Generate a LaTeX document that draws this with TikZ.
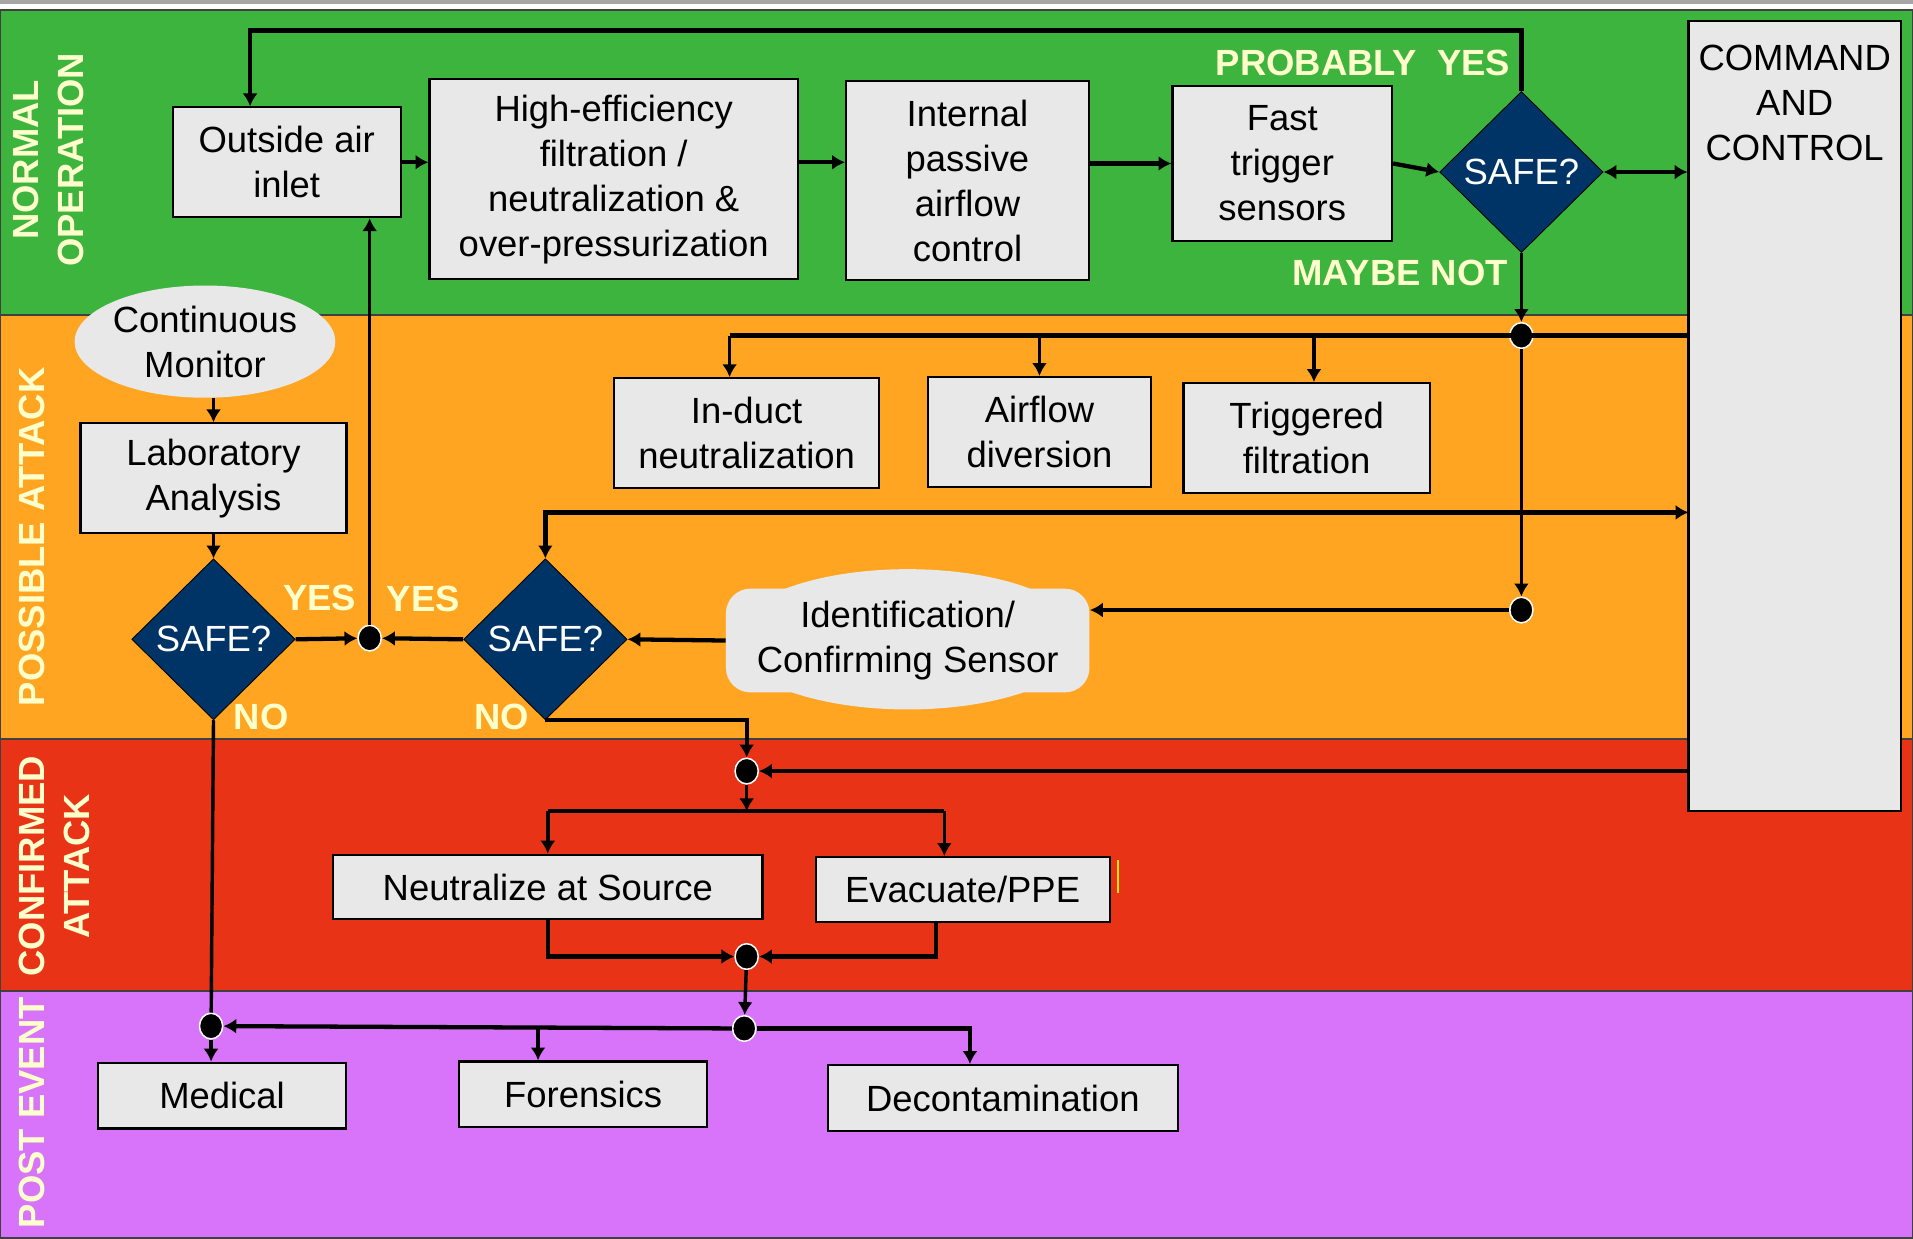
\documentclass[tikz,border=0pt]{standalone}
\usepackage{fontspec}
\setmainfont{Liberation Sans}
\usetikzlibrary{shapes.geometric,arrows.meta}
\definecolor{opgreen}{RGB}{61,180,61}
\definecolor{atkorange}{RGB}{255,165,33}
\definecolor{cnfred}{RGB}{233,51,22}
\definecolor{postpurple}{RGB}{216,116,250}
\definecolor{boxgray}{RGB}{232,232,232}
\definecolor{navy}{RGB}{0,51,102}
\definecolor{paleyellow}{RGB}{255,255,204}
\newcommand{\boxfont}{\fontsize{17}{21}\selectfont}
\newcommand{\lanefont}{\fontsize{17}{21}\selectfont\bfseries}

\begin{document}
\begin{tikzpicture}[x=0.02cm, y=-0.02cm, >={Latex[length=6pt,width=7pt]},
  every node/.style={font=\boxfont},
  stepbox/.style={draw, line width=1pt, fill=boxgray, align=center, inner sep=2pt},
  safe/.style={diamond, aspect=1, draw=black, fill=navy, text=white, inner sep=0pt, minimum width=2.68cm, minimum height=2.64cm},
  joint/.style={ellipse, fill=black, draw=white, line width=0.7pt, minimum width=0.38cm, minimum height=0.42cm, inner sep=0pt},
  answer/.style={text=paleyellow, font=\lanefont},
  lane/.style={text=paleyellow, font=\lanefont, rotate=90, align=center},
  conn/.style={line width=2pt},
  thinconn/.style={line width=1.6pt}]
  \useasboundingbox (0,0) rectangle (1568,1015);
  % lanes
  \fill[gray!70] (0,0) rectangle (1568,3);
  \draw[fill=opgreen, draw=black!75, line width=0.8pt] (0,8) rectangle (1568,258);
  \draw[fill=atkorange, draw=black!75, line width=0.8pt] (0,258) rectangle (1568,606);
  \draw[fill=cnfred, draw=black!75, line width=0.8pt] (0,606) rectangle (1568,812);
  \draw[fill=postpurple, draw=black!75, line width=0.8pt] (0,812) rectangle (1568,1015);
  \node[lane] (normal) at (40,131) {NORMAL\\OPERATION};
  \node[lane] (possible) at (26,440) {POSSIBLE ATTACK};
  \node[lane] (confirmed) at (45,710) {CONFIRMED\\ATTACK};
  \node[lane] (post) at (26,912) {POST EVENT};

  % normal operation
  \node[stepbox, minimum width=3.74cm, minimum height=1.8cm] (inlet) at (235,133) {Outside air\\inlet};
  \node[stepbox, minimum width=6.04cm, minimum height=3.28cm] (filt) at (503,147) {High-efficiency\\filtration /\\neutralization \&\\over-pressurization};
  \node[stepbox, minimum width=3.98cm, minimum height=3.26cm] (passive) at (793,148) {Internal\\passive\\airflow\\control};
  \node[stepbox, minimum width=3.6cm, minimum height=2.54cm] (fast) at (1051,134) {Fast\\trigger\\sensors};
  \node[safe] (safeA) at (1247,141) {SAFE?};
  \node[stepbox, minimum width=3.48cm, minimum height=12.96cm] (cmd) at (1471,341) {};
  \node[align=center] (cmdtext) at (1471,84) {COMMAND\\AND\\CONTROL};
  \node[answer, anchor=east] (probyes) at (1244,52) {PROBABLY\ \ YES};
  \node[answer, anchor=east] (maybenot) at (1242,224) {MAYBE NOT};

  % possible attack
  \node[ellipse, fill=boxgray, minimum width=4.18cm, minimum height=1.84cm, inner sep=0pt, align=center] (monitor) at (168,280) {Continuous\\Monitor};
  \node[stepbox, minimum width=4.36cm, minimum height=1.8cm] (lab) at (175,392) {Laboratory\\Analysis};
  \node[safe] (safeB) at (175,524) {SAFE?};
  \node[safe] (safeC) at (447,524) {SAFE?};
  \node[joint] (yesjoin) at (303,523) {};
  \node[stepbox, minimum width=4.34cm, minimum height=1.8cm] (induct) at (612,355) {In-duct\\neutralization};
  \node[stepbox, minimum width=3.66cm, minimum height=1.8cm] (divert) at (852,354) {Airflow\\diversion};
  \node[stepbox, minimum width=4.04cm, minimum height=1.8cm] (trigfilt) at (1071,359) {Triggered\\filtration};
  \node[joint] (alarm) at (1247,275) {};
  \node[joint] (confirm) at (1247,500) {};
  \fill[boxgray] (744,524) ellipse [x radius=2.9cm, y radius=1.15cm];
  \node[fill=boxgray, rounded corners=0.4cm, minimum width=5.96cm, minimum height=1.7cm, align=center, inner sep=0pt] (ident) at (744,525) {Identification/\\Confirming Sensor};
  \node[answer] (yesB) at (262,490) {YES};
  \node[answer] (yesC) at (347,491) {YES};
  \node[answer] (noB) at (214,588) {NO};
  \node[answer] (noC) at (411,588) {NO};

  % confirmed attack
  \node[joint] (attack) at (612,632) {};
  \coordinate (split) at (612,665);
  \node[stepbox, minimum width=7.04cm, minimum height=1.06cm] (neutral) at (449,727) {Neutralize at Source};
  \node[stepbox, minimum width=4.82cm, minimum height=1.06cm] (evac) at (789,729) {Evacuate/PPE};
  \node[joint] (merge) at (612,784) {};
  \draw[yellow!90!orange, line width=1.2pt] ([xshift=3.5pt,yshift=-2pt]evac.north east) -- ++(0,27);

  % post event
  \node[joint] (after) at (610,843) {};
  \node[joint] (medjoin) at (173,841) {};
  \node[stepbox, minimum width=4.06cm, minimum height=1.08cm] (medical) at (182,898) {Medical};
  \node[stepbox, minimum width=4.06cm, minimum height=1.08cm] (forens) at (478,897) {Forensics};
  \node[stepbox, minimum width=5.74cm, minimum height=1.08cm] (decon) at (822,900) {Decontamination};

  % connectors
  \coordinate (loop) at (205,25);
  \coordinate (report) at (1384,420);
  \draw[conn,->] (safeA.north) |- (loop) -- (loop |- inlet.north);
  \draw[conn,->] (inlet.east) -- (inlet.east -| filt.west);
  \draw[conn,->] (filt.east |- inlet.east) -- (passive.west |- inlet.east);
  \draw[conn,->] (passive.east |- fast) -- (fast.west);
  \draw[conn,->] (fast.east) -- (safeA.west);
  \draw[conn,<->] (safeA.east) -- (safeA.east -| cmd.west);
  \draw[thinconn,->] (safeA.south) -- (alarm);
  \coordinate (idrop) at ([xshift=-0.28cm]induct.north);
  \coordinate (tdrop) at ([xshift=0.12cm]trigfilt.north);
  \draw[conn] (idrop |- alarm) -- (alarm -| cmd.west);
  \foreach \n in {idrop,divert.north,tdrop}
    \draw[thinconn,->] (\n |- alarm) -- (\n);
  \draw[thinconn,->] (alarm) -- (confirm);
  \draw[conn,->] (confirm) -- (confirm -| ident.east);
  \draw[conn,<->] (safeC.north) |- (report);
  \draw[conn,->] (ident.west) -- (safeC.east);
  \draw[conn,->] (safeB.east) -- (yesjoin);
  \draw[conn,->] (safeC.west) -- (yesjoin);
  \draw[thinconn,->] (yesjoin) -- (yesjoin |- inlet.south);
  \draw[thinconn,->] (lab.north |- monitor.south) -- (lab.north);
  \draw[thinconn,->] (lab.south) -- (safeB.north);
  \draw[conn,->] (safeC.south) -| (attack);
  \draw[conn,->] (attack -| cmd.west) -- (attack);
  \draw[thinconn,->] (attack) -- (split);
  \coordinate (edrop) at ([xshift=-0.3cm]evac.north);
  \draw[conn] (neutral.north |- split) -- (edrop |- split);
  \draw[thinconn,->] (neutral.north |- split) -- (neutral.north);
  \draw[thinconn,->] (edrop |- split) -- (edrop);
  \draw[conn,->] (neutral.south) |- (merge);
  \draw[conn,->] ([xshift=-0.44cm]evac.south) |- (merge);
  \draw[thinconn,->] (merge) -- (after);
  \draw[conn,->] (after) -- (medjoin);
  \coordinate (fdrop) at ([xshift=-0.74cm]forens.north);
  \coordinate (ddrop) at ([xshift=-0.54cm]decon.north);
  \draw[thinconn,->] (fdrop |- after) -- (fdrop);
  \draw[conn,->] (after) -| (ddrop);
  \draw[thinconn] (safeB.south) -- (medjoin);
  \draw[thinconn,->] (medjoin) -- (medjoin |- medical.north);
\end{tikzpicture}
\end{document}
